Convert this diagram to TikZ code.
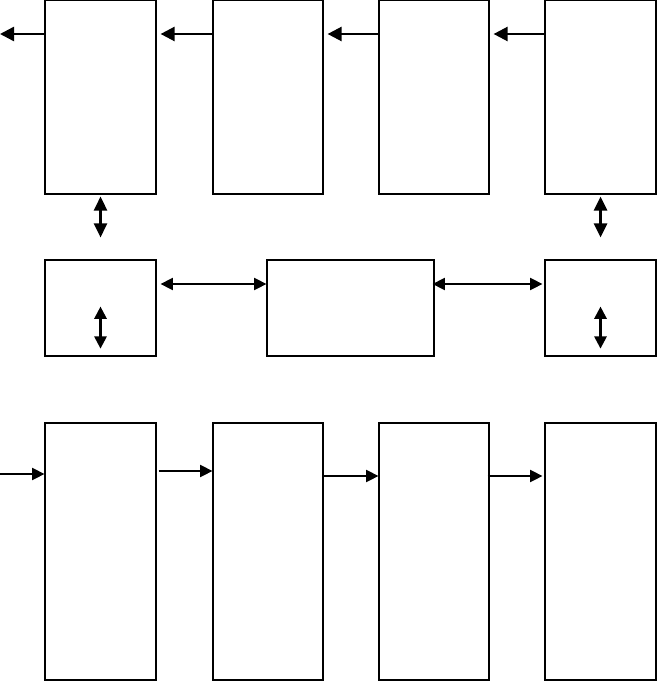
\documentclass[tikz,border=0pt]{standalone}
\usetikzlibrary{arrows.meta,calc}
\begin{document}
\begin{tikzpicture}[x=0.02cm,y=-0.02cm,
		blk/.style={draw,line width=0.7pt,inner sep=0pt},
		heavy/.style={line width=1.4pt,-{Triangle[length=8pt,width=8pt]}},
		heavyboth/.style={line width=1.4pt,{Triangle[length=8pt,width=7.5pt]}-{Triangle[length=8pt,width=7.5pt]}},
		light/.style={line width=0.6pt,-{Triangle[length=7pt,width=7pt]}},
		lightboth/.style={line width=0.6pt,{Triangle[length=7pt,width=7pt]}-{Triangle[length=7pt,width=7pt]}},
		midboth/.style={line width=1.3pt,{Triangle[length=7pt,width=7pt]}-{Triangle[length=7pt,width=7pt]}}]
			\useasboundingbox (0,0) rectangle (658,682);
			% upper row
			\node[blk,minimum width=2.22cm,minimum height=3.88cm] (t1) at (100.5,97) {};
			\node[blk,minimum width=2.2cm,minimum height=3.88cm] (t2) at (268,97) {};
			\node[blk,minimum width=2.2cm,minimum height=3.88cm] (t3) at (434,97) {};
			\node[blk,minimum width=2.22cm,minimum height=3.88cm] (t4) at (600.5,97) {};
			\coordinate (out) at (0,34);
			\draw[heavy] (t1.west|-out) -- (out);
			\draw[heavy,shorten >=0.08cm] (t2.west|-out) -- (t1.east|-out);
			\draw[heavy,shorten >=0.08cm] (t3.west|-out) -- (t2.east|-out);
			\draw[heavy,shorten >=0.08cm] (t4.west|-out) -- (t3.east|-out);
			% middle row
			\node[blk,minimum width=2.22cm,minimum height=1.92cm] (m1) at (100.5,308) {};
			\node[blk,minimum width=3.34cm,minimum height=1.92cm] (m2) at (350.5,308) {};
			\node[blk,minimum width=2.22cm,minimum height=1.92cm] (m3) at (600.5,308) {};
			\draw[heavyboth,shorten <=0.04cm,shorten >=0.44cm] (t1.south) -- (m1.north);
			\draw[heavyboth,shorten <=0.04cm,shorten >=0.44cm] (t4.south) -- (m3.north);
			\draw[midboth] ($(m1.south)+(0,-8)$) -- ($(m1.south)+(0,-50)$);
			\draw[midboth] ($(m3.south)+(0,-8)$) -- ($(m3.south)+(0,-50)$);
			\coordinate (link) at (0,284);
			\draw[lightboth,shorten <=0.08cm] (m1.east|-link) -- (m2.west|-link);
			\draw[lightboth,shorten <=-0.04cm,shorten >=0.04cm] (m2.east|-link) -- (m3.west|-link);
			% lower row
			\node[blk,minimum width=2.22cm,minimum height=5.14cm] (b1) at (100.5,551.5) {};
			\node[blk,minimum width=2.2cm,minimum height=5.14cm] (b2) at (268,551.5) {};
			\node[blk,minimum width=2.2cm,minimum height=5.14cm] (b3) at (434,551.5) {};
			\node[blk,minimum width=2.22cm,minimum height=5.14cm] (b4) at (600.5,551.5) {};
			\coordinate (in) at (0,474);
			\draw[light] (in) -- (b1.west|-in);
			\draw[light,shorten <=0.04cm] (b1.east|-0,471) -- (b2.west|-0,471);
			\draw[light] (b2.east|-0,476) -- (b3.west|-0,476);
			\draw[light,shorten <=-0.04cm,shorten >=0.04cm] (b3.east|-0,476) -- (b4.west|-0,476);
		\end{tikzpicture}
\end{document}
